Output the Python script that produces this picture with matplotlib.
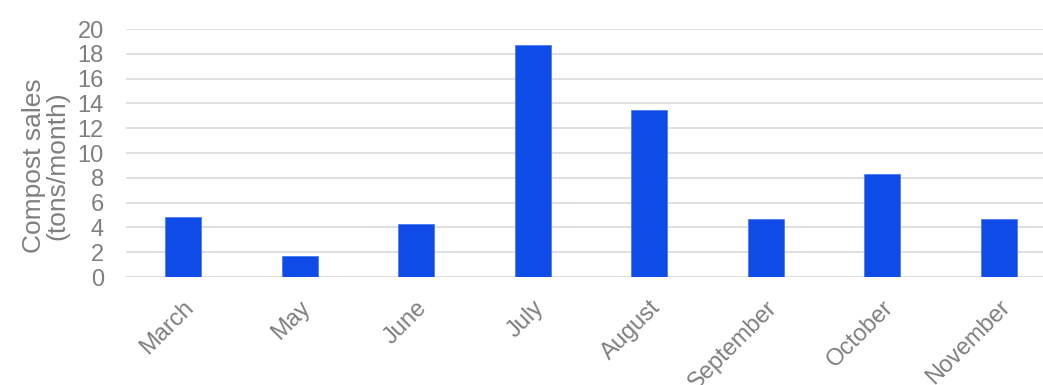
"""Compost sales per month bar chart."""
import matplotlib
matplotlib.use("Agg")
import matplotlib.pyplot as plt

months = ["March", "May", "June", "July", "August", "September", "October", "November"]
sales = [4.8, 1.7, 4.3, 18.7, 13.5, 4.7, 8.3, 4.7]
y_ticks = [0, 2, 4, 6, 8, 10, 12, 14, 16, 18, 20]

plt.rcParams['font.family'] = ['Liberation Sans', 'DejaVu Sans']
text_grey = '#7f7f7f'

fig = plt.figure(figsize=(10.43, 3.85), dpi=100)
ax = fig.add_axes([126 / 1043, 1 - 277 / 385, (1043 - 126) / 1043, (277 - 29) / 385])

x = list(range(len(months)))
ax.bar(x, sales, width=0.31, color='#0f4be6', edgecolor='#4d7cf0', linewidth=0.6, zorder=3)

ax.set_xlim(-0.49, 7.38)
ax.set_ylim(0, 20)
ax.set_yticks(y_ticks)
ax.set_yticklabels([str(t) for t in y_ticks], fontsize=17, color=text_grey)
ax.yaxis.grid(True, color='#dddddd', linewidth=1.3, zorder=0)
ax.set_axisbelow(True)

ax.set_xticks(x)
ax.set_xticklabels(months, rotation=45, ha='right', rotation_mode='anchor',
                   fontsize=17, color=text_grey)
ax.tick_params(axis='x', length=0, pad=14)
ax.tick_params(axis='y', length=0, pad=16)

ax.set_ylabel("Compost sales\n(tons/month)", fontsize=19, color=text_grey, linespacing=0.95)
ax.yaxis.set_label_coords(-0.062, 0.45)

for side in ['top', 'right', 'left', 'bottom']:
    ax.spines[side].set_visible(False)

fig.savefig("out.png", dpi=100)
